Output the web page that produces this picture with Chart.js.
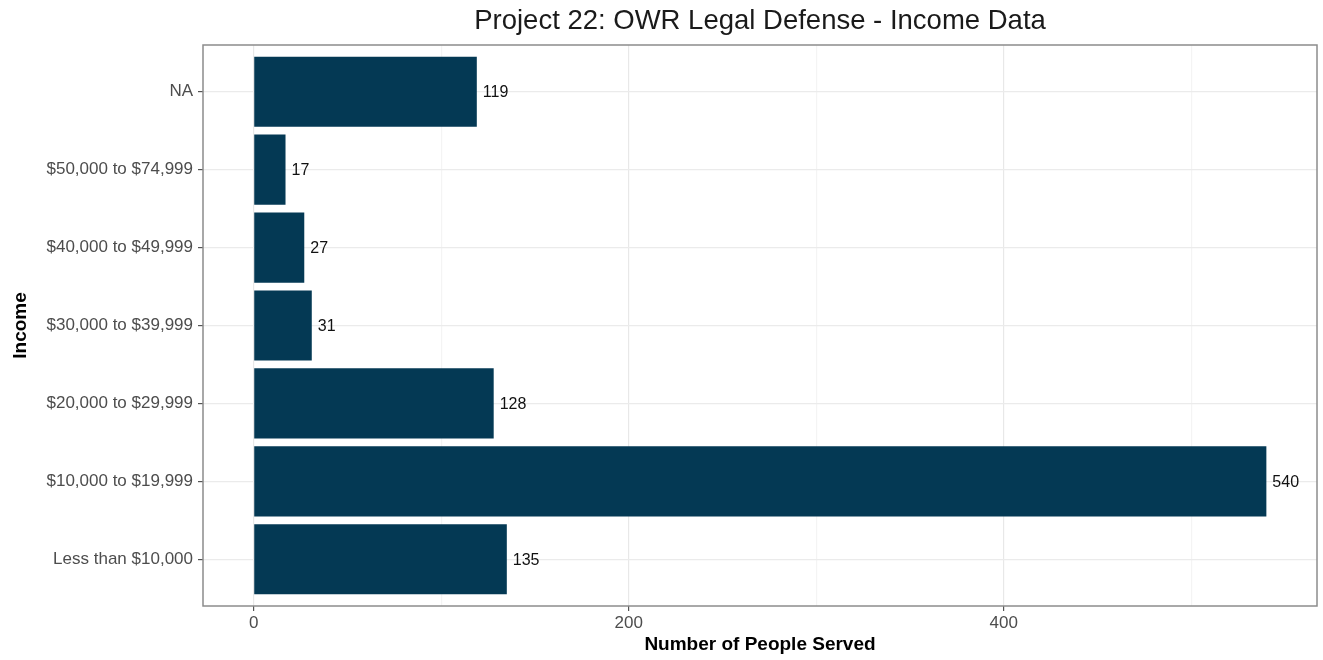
<!DOCTYPE html>
<html lang="en">
<head>
  <meta charset="UTF-8">
  <title>Project 22: OWR Legal Defense - Income Data</title>
  <script src="https://cdn.jsdelivr.net/npm/chart.js@4"></script>
  <style>
    html, body { margin: 0; padding: 0; background: #ffffff; }
    #wrap { width: 1323px; height: 660px; position: relative; }
  </style>
</head>
<body>
  <div id="wrap">
    <canvas id="chart" width="1323" height="660"></canvas>
  </div>

  <script>
    // Income groups, bottom to top as shown on the axis
    var incomeGroups = [
      "Less than $10,000",
      "$10,000 to $19,999",
      "$20,000 to $29,999",
      "$30,000 to $39,999",
      "$40,000 to $49,999",
      "$50,000 to $74,999",
      "NA"
    ];
    var peopleServed = [135, 540, 128, 31, 27, 17, 119];

    var xTicks = [0, 100, 200, 300, 400, 500];
    var xLabelled = [0, 200, 400];

    var FONT = "'Liberation Sans', Arial, sans-serif";
    var BAR_COLOR = "#043954";

    /* Title, panel border and value labels */
    var extras = {
      id: "extras",
      afterDatasetsDraw: function(chart) {
        var ctx = chart.ctx;

        // Value labels next to bars
        var meta = chart.getDatasetMeta(0);
        ctx.save();
        ctx.font = "16px " + FONT;
        ctx.fillStyle = "#111111";
        ctx.textAlign = "left";
        ctx.textBaseline = "middle";
        meta.data.forEach(function(bar, i) {
          ctx.fillText(String(peopleServed[i]), bar.x + 6, bar.y + 1);
        });
        ctx.restore();
      },
      afterDraw: function(chart) {
        var ctx = chart.ctx;
        var area = chart.chartArea;

        // Panel border
        ctx.save();
        ctx.strokeStyle = "#8c8c8c";
        ctx.lineWidth = 1.5;
        ctx.strokeRect(area.left, area.top, area.right - area.left, area.bottom - area.top);
        ctx.restore();

        // Title centred over panel
        ctx.save();
        ctx.font = "27.5px " + FONT;
        ctx.fillStyle = "#1a1a1a";
        ctx.textAlign = "center";
        ctx.textBaseline = "middle";
        ctx.fillText("Project 22: OWR Legal Defense - Income Data", (area.left + area.right) / 2, 21);
        ctx.restore();
      }
    };

    var data = peopleServed.map(function(v, i) { return { x: v, y: i }; });

    new Chart(document.getElementById("chart"), {
      type: "bar",
      data: {
        datasets: [{
          label: "Number of People Served",
          data: data,
          backgroundColor: BAR_COLOR,
          borderWidth: 0,
          barPercentage: 0.9,
          categoryPercentage: 1.0
        }]
      },
      options: {
        indexAxis: "y",
        responsive: false,
        animation: false,
        layout: { padding: { top: 45, right: 6, left: 0, bottom: 0 } },
        plugins: {
          legend: { display: false },
          tooltip: { enabled: false },
          title: { display: false }
        },
        scales: {
          x: {
            type: "linear",
            min: -27,
            max: 567,
            afterBuildTicks: function(scale) {
              scale.ticks = xTicks.map(function(v) { return { value: v }; });
            },
            afterFit: function(scale) { scale.height = 54; },
            border: { display: false },
            grid: {
              color: function(c) {
                return xLabelled.indexOf(c.tick.value) >= 0 ? "#e8e8e8" : "#f4f4f4";
              },
              lineWidth: 1.2,
              drawTicks: true,
              tickLength: 5,
              tickColor: function(c) {
                return xLabelled.indexOf(c.tick.value) >= 0 ? "#555555" : "rgba(0,0,0,0)";
              }
            },
            ticks: {
              autoSkip: false,
              maxRotation: 0,
              padding: 2,
              color: "#4d4d4d",
              font: { family: FONT, size: 17 },
              callback: function(v) {
                return xLabelled.indexOf(v) >= 0 ? String(v) : "";
              }
            },
            title: {
              display: true,
              text: "Number of People Served",
              color: "#000000",
              font: { family: FONT, size: 19, weight: "bold" },
              padding: { top: 4, bottom: 4 }
            }
          },
          y: {
            type: "linear",
            offset: false,
            min: -0.6,
            max: incomeGroups.length - 1 + 0.6,
            afterBuildTicks: function(scale) {
              scale.ticks = incomeGroups.map(function(_, i) { return { value: i }; });
            },
            afterFit: function(scale) { scale.width = 203; },
            border: { display: false },
            grid: {
              offset: false,
              color: "#ebebeb",
              lineWidth: 1.2,
              drawTicks: true,
              tickLength: 5,
              tickColor: "#555555"
            },
            ticks: {
              autoSkip: false,
              padding: 5,
              color: "#4d4d4d",
              font: { family: FONT, size: 17 },
              callback: function(v) { return incomeGroups[v]; }
            },
            title: {
              display: true,
              text: "Income",
              color: "#000000",
              font: { family: FONT, size: 19, weight: "bold" },
              padding: { top: 9, bottom: 0 }
            }
          }
        }
      },
      plugins: [extras]
    });
  </script>
</body>
</html>
